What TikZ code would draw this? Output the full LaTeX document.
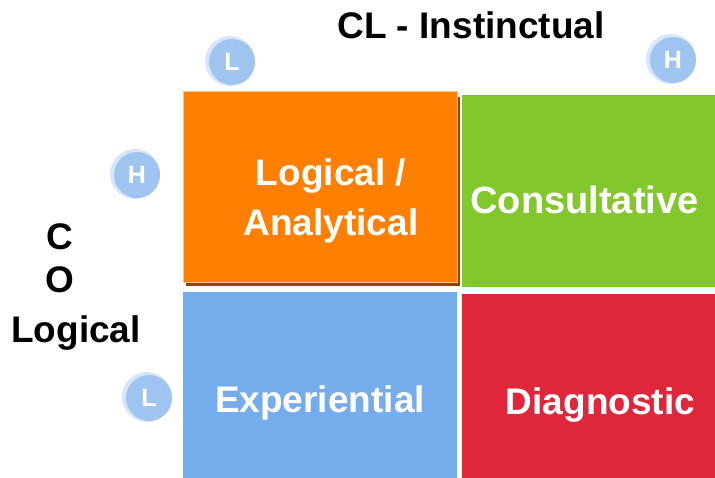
\documentclass[tikz,border=0pt]{standalone}
\usepackage{fontspec}
\setmainfont{Liberation Sans}
\usetikzlibrary{positioning}

\definecolor{qorange}{RGB}{255,127,0}
\definecolor{qgreen}{RGB}{130,200,45}
\definecolor{qblue}{RGB}{117,172,235}
\definecolor{qred}{RGB}{224,38,58}
\definecolor{dotblue}{RGB}{160,196,240}
\definecolor{dothalo}{RGB}{215,230,250}

\begin{document}
\begin{tikzpicture}[x=1pt, y=1pt,
    quad/.style = {rectangle, inner sep=0pt, anchor=center},
    txt/.style = {font=\fontsize{37}{50}\selectfont\bfseries, text=white, align=center},
    head/.style = {font=\fontsize{37}{44}\selectfont\bfseries, text=black, align=center},
    dot/.style = {circle, fill=dotblue, minimum size=46pt, inner sep=0pt,
      font=\fontsize{25}{25}\selectfont\bfseries, text=white}]
    \useasboundingbox (0,0) rectangle (715,478);

    % quadrants
    \fill[black!45!qorange] (186,192) rectangle (460,381);
    \node[quad, fill=qorange, minimum width=274pt, minimum height=191pt,
      draw=qorange!45!white, line width=1pt] (LA) at (320,290.5) {};
    \node[quad, fill=qgreen, minimum width=253pt, minimum height=192pt] (CO) at (588.5,287) {};
    \node[quad, fill=qblue, minimum width=274pt, minimum height=186pt] (EX) at (320,93) {};
    \node[quad, fill=qred, minimum width=253pt, minimum height=184pt] (DI) at (588.5,92) {};

    \node[txt] (tLA) at ([xshift=11, yshift=-13]LA.center) {Logical /\\Analytical};
    \node[txt, font=\fontsize{38}{44}\selectfont\bfseries] (tCO) at ([xshift=-4, yshift=-9]CO.center) {Consultative};
    \node[txt] (tEX) at ([yshift=-18]EX.center) {Experiential};
    \node[txt] (tDI) at ([xshift=12, yshift=-19]DI.center) {Diagnostic};

    % axis titles
    \node[head] (top) at (471,453) {CL - Instinctual};
    \node[head] (c) at (60,241) {C};
    \node[head] (o) at (60,198) {O};
    \node[head] (lg) at (76,145) {Logical};

    % level markers
    \foreach \name/\pos/\lbl in {tl/{232,416}/L, tr/{673,418}/H, lh/{137,303}/H, ll/{149,80}/L} {
      \fill[dothalo] ([xshift=-2, yshift=1]\pos) circle (25);
      \node[dot] (\name) at (\pos) {\lbl};
    }
  \end{tikzpicture}
\end{document}
